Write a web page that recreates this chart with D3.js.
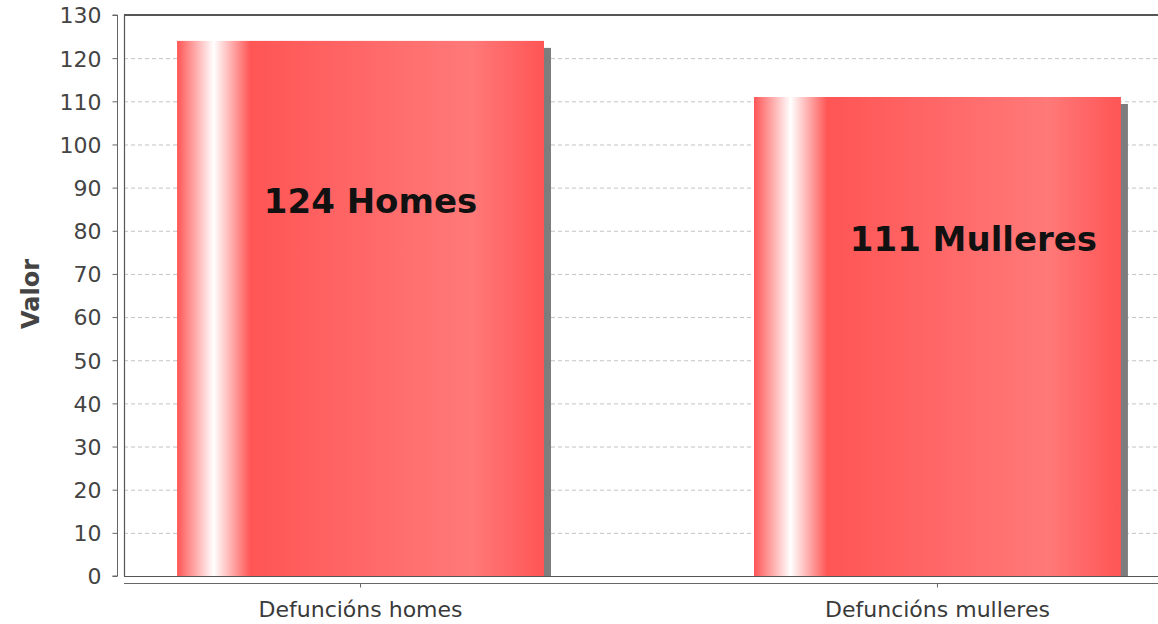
<!DOCTYPE html>
<html>
<head>
<meta charset="utf-8">
<script src="https://cdn.jsdelivr.net/npm/d3@7"></script>
<style>
  html, body { margin: 0; padding: 0; background: #ffffff; }
  svg { display: block; }
</style>
</head>
<body>
<svg id="chart" width="1158" height="624"></svg>
<script>
// ---- data ----
const categories = ["Defuncións homes", "Defuncións mulleres"];
const values = [124, 111];
const barLabels = ["124 Homes", "111 Mulleres"];
const yTicks = [0, 10, 20, 30, 40, 50, 60, 70, 80, 90, 100, 110, 120, 130];
const yAxisTitle = "Valor";

// ---- layout ----
const W = 1158, H = 624;
const plot = { left: 124, top: 15, bottom: 576, right: 1174 };
const svg = d3.select("#chart");

const x = d3.scaleBand()
  .domain(categories)
  .range([plot.left, plot.right])
  .paddingInner(0.364)
  .paddingOuter(0.092);

const y = d3.scaleLinear()
  .domain([0, 130])
  .range([plot.bottom, plot.top]);

const defs = svg.append("defs");
const base = "#ff5555", light = "#ff7979";
const grad = defs.append("linearGradient")
  .attr("id", "barGrad").attr("x1", "0").attr("x2", "1").attr("y1", "0").attr("y2", "0");
[[0, base], [0.10, "#ffffff"], [0.20, base], [0.80, light], [1, base]].forEach(([o, c]) => {
  grad.append("stop").attr("offset", o).attr("stop-color", c);
});
defs.append("clipPath").attr("id", "plotClip")
  .append("rect").attr("x", plot.left).attr("y", plot.top)
  .attr("width", plot.right - plot.left).attr("height", plot.bottom - plot.top);

// gridlines
svg.append("g").selectAll("line").data(yTicks.filter(d => d > 0 && d < 130)).join("line")
  .attr("x1", plot.left).attr("x2", W)
  .attr("y1", d => y(d) + 0.5).attr("y2", d => y(d) + 0.5)
  .attr("stroke", "#c4c4c4").attr("stroke-width", 1).attr("stroke-dasharray", "4,3");

// bars + shadows
const gBars = svg.append("g").attr("clip-path", "url(#plotClip)");
const shadowOff = 7;
gBars.selectAll("rect.shadow").data(values).join("rect")
  .attr("class", "shadow")
  .attr("x", (d, i) => x(categories[i]) + shadowOff)
  .attr("y", d => y(d) + shadowOff)
  .attr("width", x.bandwidth())
  .attr("height", d => y(0) - y(d))
  .attr("fill", "#7d7d7d");
gBars.selectAll("rect.bar").data(values).join("rect")
  .attr("class", "bar")
  .attr("x", (d, i) => x(categories[i]))
  .attr("y", d => y(d))
  .attr("width", x.bandwidth())
  .attr("height", d => y(0) - y(d))
  .attr("fill", "url(#barGrad)");

// plot outline
svg.append("line").attr("x1", plot.left).attr("x2", W).attr("y1", plot.top).attr("y2", plot.top)
  .attr("stroke", "#555").attr("stroke-width", 2);
svg.append("line").attr("x1", plot.left + 0.5).attr("x2", plot.left + 0.5).attr("y1", plot.top).attr("y2", plot.bottom)
  .attr("stroke", "#555").attr("stroke-width", 1.2);
svg.append("line").attr("x1", plot.left).attr("x2", W).attr("y1", plot.bottom + 0.5).attr("y2", plot.bottom + 0.5)
  .attr("stroke", "#555").attr("stroke-width", 1.2);

// y axis
const yAxis = d3.axisLeft(y).tickValues(yTicks).tickSize(5).tickPadding(11);
const gy = svg.append("g").attr("transform", "translate(117.5,0)").call(yAxis);
gy.select(".domain").attr("stroke", "#666").attr("d", `M-5,${plot.top}H0V${plot.bottom}H-5`);
gy.selectAll(".tick line").attr("stroke", "#666");
gy.selectAll(".tick text")
  .attr("font-family", "DejaVu Sans, Verdana, sans-serif").attr("font-size", 22)
  .attr("fill", "#444").attr("dy", "0.36em");

// x axis
const xAxis = d3.axisBottom(x).tickSize(4).tickPadding(14);
const gx = svg.append("g").attr("transform", `translate(0,${583.5})`).call(xAxis);
gx.select(".domain").attr("stroke", "#666").attr("d", `M${plot.left},0H${W}`);
gx.selectAll(".tick line").attr("stroke", "#666");
gx.selectAll(".tick text")
  .attr("font-family", "DejaVu Sans, Verdana, sans-serif").attr("font-size", 22)
  .attr("fill", "#3a3a3a");

// y axis title
svg.append("text")
  .attr("transform", "translate(39,294) rotate(-90)")
  .attr("text-anchor", "middle")
  .attr("font-family", "DejaVu Sans, Verdana, sans-serif").attr("font-weight", "bold")
  .attr("font-size", 24).attr("fill", "#444")
  .text(yAxisTitle);

// bar annotations (positioned in data units)
const labelPlacement = [{ dx: 10, v: 84.2 }, { dx: 36, v: 75.3 }];
svg.append("g").selectAll("text").data(barLabels).join("text")
  .attr("x", (d, i) => x(categories[i]) + x.bandwidth() / 2 + labelPlacement[i].dx)
  .attr("y", (d, i) => y(labelPlacement[i].v))
  .attr("text-anchor", "middle")
  .attr("font-family", "DejaVu Sans, Verdana, sans-serif").attr("font-weight", "bold")
  .attr("font-size", 34).attr("fill", "#111")
  .text(d => d);
</script>
</body>
</html>
